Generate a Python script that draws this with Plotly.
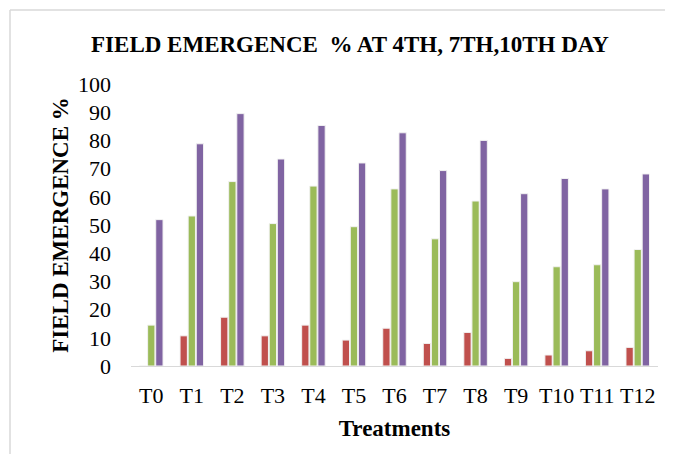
import plotly.graph_objects as go

categories = ["T0", "T1", "T2", "T3", "T4", "T5", "T6", "T7", "T8", "T9", "T10", "T11", "T12"]
day4 = [0, 10.7, 17.3, 10.7, 14.5, 9.2, 13.4, 8.0, 11.9, 2.7, 3.9, 5.4, 6.6]
day7 = [14.5, 53.2, 65.4, 50.5, 63.8, 49.4, 62.8, 45.1, 58.5, 29.9, 35.2, 35.9, 41.3]
day10 = [51.9, 78.8, 89.5, 73.4, 85.3, 72.0, 82.7, 69.3, 80.0, 61.1, 66.5, 62.8, 68.1]
y_ticks = [0, 10, 20, 30, 40, 50, 60, 70, 80, 90, 100]

series = [("4th day", day4, "#C0504D"), ("7th day", day7, "#9BBB59"), ("10th day", day10, "#8064A2")]

fig = go.Figure()
for name, vals, col in series:
    fig.add_trace(go.Bar(x=categories, y=vals, name=name, marker=dict(color=col, line=dict(color="#f2f2f2", width=1))))

serif = "Liberation Serif, Times New Roman, serif"
border = dict(color="#d9d9d9", width=1.5)
fig.update_layout(
    width=657, height=446,
    margin=dict(l=123, r=7, t=76, b=88),
    paper_bgcolor="white", plot_bgcolor="white",
    showlegend=False,
    barmode="group", bargap=0.4, bargroupgap=0.1,
    font=dict(family=serif, color="#000000"),
    title=dict(text="<b>FIELD EMERGENCE\u00a0 % AT 4TH, 7TH,10TH DAY</b>", x=0.5205, xanchor="center", y=0.919, yanchor="middle",
               font=dict(size=23, family=serif, color="#000000")),
    xaxis=dict(showgrid=False, showline=True, linecolor="#d9d9d9", linewidth=1, ticks="", tickfont=dict(size=22),
               ticklabelstandoff=10,
               title=dict(text="<b>Treatments</b>", font=dict(size=23), standoff=12)),
    yaxis=dict(range=[0, 100], tickvals=y_ticks, showgrid=False, zeroline=False, showline=False, ticks="",
               tickfont=dict(size=22), ticklabelstandoff=19,
               title=dict(text="<b>FIELD EMERGENCE %</b>", font=dict(size=23), standoff=2)),
    shapes=[
        dict(type="line", xref="paper", yref="paper", x0=-0.2296, x1=1.2, y0=1.262, y1=1.262, line=border, layer="below"),
        dict(type="line", xref="paper", yref="paper", x0=-0.2296, x1=-0.2296, y0=-0.5, y1=1.262, line=border, layer="below"),
    ],
)
fig.write_html("out.html")
